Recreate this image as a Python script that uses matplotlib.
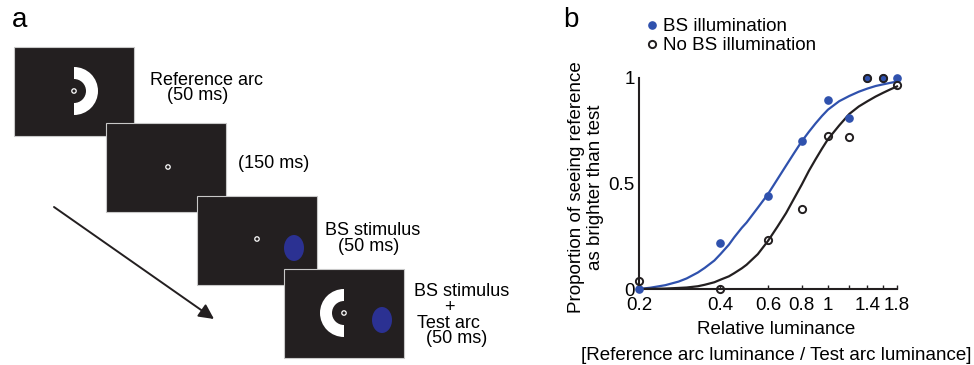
import matplotlib.pyplot as plt
import numpy as np
from matplotlib.patches import Rectangle, Wedge, Ellipse, Circle, FancyArrowPatch
from matplotlib.ticker import NullLocator

plt.rcParams['font.family'] = ['Liberation Sans', 'DejaVu Sans']

# data
lum = [0.2, 0.4, 0.6, 0.8, 1.0, 1.2, 1.4, 1.6, 1.8]
p_bs = [0.0, 0.22, 0.44, 0.70, 0.895, 0.81, 1.0, 1.0, 1.0]
p_nobs = [0.036, 0.0, 0.23, 0.38, 0.725, 0.72, 1.0, 1.0, 0.965]

# fitted curves
fit_x = [0.2, 0.22, 0.25, 0.28, 0.3, 0.33, 0.35, 0.38, 0.4, 0.43, 0.45, 0.48, 0.5, 0.55,
         0.6, 0.65, 0.7, 0.75, 0.8, 0.85, 0.9, 0.95, 1.0, 1.1, 1.2, 1.3, 1.4, 1.5, 1.6, 1.7, 1.8]
fit_bs = [0.0, 0.006, 0.018, 0.035, 0.05, 0.078, 0.10, 0.135, 0.165, 0.21, 0.245, 0.29, 0.315, 0.385,
          0.45, 0.52, 0.585, 0.645, 0.70, 0.745, 0.785, 0.82, 0.85, 0.89, 0.915, 0.935, 0.95, 0.962, 0.97, 0.977, 0.983]
fit_nobs = [0.0, 0.001, 0.002, 0.005, 0.007, 0.013, 0.02, 0.032, 0.044, 0.06, 0.075, 0.098, 0.115, 0.165,
            0.228, 0.295, 0.36, 0.43, 0.495, 0.56, 0.615, 0.665, 0.71, 0.775, 0.83, 0.865, 0.89, 0.912, 0.93, 0.946, 0.96]

xticks = [0.2, 0.4, 0.6, 0.8, 1.0, 1.2, 1.4, 1.6, 1.8]
xticklabels = ['0.2', '0.4', '0.6', '0.8', '1', '', '1.4', '', '1.8']

BLUE = '#2f51ad'
DARK = '#231f20'
SCREEN = '#231f20'
BS_BLUE = '#2b3192'
FS = 13.5

fig = plt.figure(figsize=(9.74, 3.65), dpi=100)

# ---- panel a: schematic in pixel coordinates
sch = fig.add_axes([0, 0, 1, 1])
sch.set_xlim(0, 974)
sch.set_ylim(365, 0)
sch.axis('off')

screens = [(14, 47), (106, 123), (197, 196), (284, 269)]
fixations = [(74, 91), (168, 167), (257, 239), (344, 313)]
for (x0, y0), (fx, fy) in zip(screens, fixations):
    sch.add_patch(Rectangle((x0, y0), 120, 89, facecolor=SCREEN, edgecolor='#c8c8c8', lw=0.8))
    sch.add_patch(Circle((fx, fy), 2.2, facecolor='none', edgecolor='white', lw=0.9))

sch.add_patch(Wedge((74, 91), 24, -90, 90, width=12, facecolor='white', edgecolor='none'))
sch.add_patch(Wedge((344, 313), 24, 90, 270, width=12, facecolor='white', edgecolor='none'))
sch.add_patch(Ellipse((294, 248), 20, 26, facecolor=BS_BLUE, edgecolor='none'))
sch.add_patch(Ellipse((382, 320), 20, 26, facecolor=BS_BLUE, edgecolor='none'))

sch.add_patch(FancyArrowPatch((54, 207), (214, 319), arrowstyle='-|>,head_length=9,head_width=4.5',
                              color=DARK, lw=1.4, shrinkA=0, shrinkB=0, mutation_scale=1))

FSA = 13
sch.text(150, 85, 'Reference arc', fontsize=FSA, va='baseline')
sch.text(167, 100, '(50 ms)', fontsize=FSA, va='baseline')
sch.text(238, 168, '(150 ms)', fontsize=FSA, va='baseline')
sch.text(325, 235, 'BS stimulus', fontsize=FSA, va='baseline')
sch.text(338, 251, '(50 ms)', fontsize=FSA, va='baseline')
sch.text(414, 296, 'BS stimulus', fontsize=FSA, va='baseline')
sch.text(449, 312, '+', fontsize=FSA, va='baseline', ha='center')
sch.text(417, 328, 'Test arc', fontsize=FSA, va='baseline')
sch.text(426, 343, '(50 ms)', fontsize=FSA, va='baseline')

sch.text(12, 27, 'a', fontsize=20, va='baseline')
sch.text(563, 27, 'b', fontsize=20, va='baseline')

# ---- panel b
ax = fig.add_axes([639 / 974, 1 - 289 / 365, 258 / 974, 211 / 365])
ax.set_xscale('log')
ax.plot(fit_x, fit_bs, color=BLUE, lw=1.6, clip_on=False, zorder=2)
ax.plot(fit_x, fit_nobs, color=DARK, lw=1.6, clip_on=False, zorder=2)
ax.plot(lum, p_bs, 'o', color=BLUE, ms=5.2, clip_on=False, zorder=3, label='BS illumination')
ax.plot(lum, p_nobs, 'o', mfc='none', mec=DARK, mew=1.4, ms=5.2, clip_on=False, zorder=4,
        label='No BS illumination')
ax.set_xlim(0.2, 1.8)
ax.set_ylim(0, 1)
ax.patch.set_visible(False)

ax.set_xticks(xticks)
ax.set_xticklabels(xticklabels)
ax.xaxis.set_minor_locator(NullLocator())
ax.set_yticks([0, 0.5, 1])
ax.set_yticklabels(['0', '0.5', '1'])
ax.tick_params(axis='x', direction='in', length=3, width=1, pad=6, labelsize=FS, color=DARK)
ax.tick_params(axis='y', length=0, pad=3, labelsize=FS)
for side in ['top', 'right']:
    ax.spines[side].set_visible(False)
for side in ['left', 'bottom']:
    ax.spines[side].set_linewidth(1.5)
    ax.spines[side].set_color(DARK)

fig.legend(loc='upper left', bbox_to_anchor=(646 / 974, 1 - 18 / 365), frameon=False,
           fontsize=FS, handlelength=0.6, handletextpad=0.3, borderpad=0, borderaxespad=0,
           labelspacing=0.1, numpoints=1)

fig.text(586 / 974, 1 - 187 / 365, 'Proportion of seeing reference\nas brighter than test',
         rotation=90, ha='center', va='center', multialignment='center', fontsize=FS, linespacing=1.15)
fig.text(776 / 974, 1 - 330 / 365, 'Relative luminance', ha='center', va='center', fontsize=FS)
fig.text(776 / 974, 1 - 355 / 365, '[Reference arc luminance / Test arc luminance]',
         ha='center', va='center', fontsize=FS)

fig.savefig('out.png', dpi=100)
